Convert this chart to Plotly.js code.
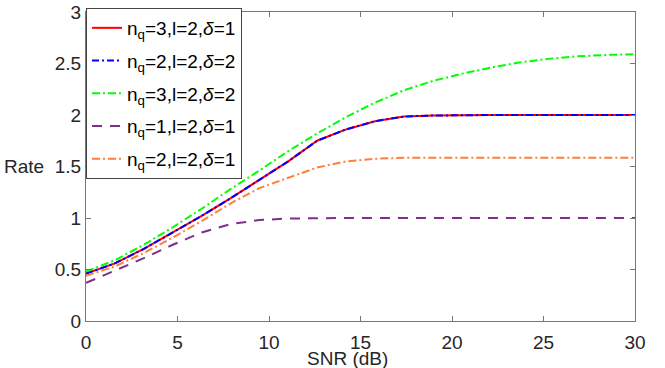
<!DOCTYPE html>
<html>
<head>
<meta charset="utf-8">
<script src="https://cdn.plot.ly/plotly-3.0.1.min.js"></script>
<style>html,body{margin:0;padding:0;background:#fff;}#chart{width:665px;height:368px;}</style>
</head>
<body>
<div id="chart"></div>
<script>
// SNR (dB) sample points
var snr = [0, 1.58, 3.16, 4.74, 6.32, 7.89, 9.47, 11.05, 12.63, 14.21, 15.79, 17.37, 18.95, 20.53, 22.11, 23.68, 25.26, 26.84, 28.42, 30];

// Rate series
var rateQ3D1 = [0.46, 0.56, 0.70, 0.86, 1.02, 1.19, 1.37, 1.55, 1.75, 1.86, 1.94, 1.985, 1.995, 2.0, 2.0, 2.0, 2.0, 2.0, 2.0, 2.0];
var rateQ2D2 = [0.46, 0.56, 0.70, 0.86, 1.02, 1.19, 1.37, 1.55, 1.75, 1.86, 1.94, 1.985, 1.995, 2.0, 2.0, 2.0, 2.0, 2.0, 2.0, 2.0];
var rateQ3D2 = [0.48, 0.59, 0.74, 0.91, 1.09, 1.28, 1.46, 1.65, 1.82, 1.98, 2.12, 2.24, 2.33, 2.40, 2.46, 2.51, 2.545, 2.57, 2.583, 2.59];
var rateQ1D1 = [0.37, 0.49, 0.61, 0.74, 0.86, 0.94, 0.98, 0.995, 1.0, 1.0, 1.0, 1.0, 1.0, 1.0, 1.0, 1.0, 1.0, 1.0, 1.0, 1.0];
var rateQ2D1 = [0.44, 0.53, 0.66, 0.81, 0.97, 1.14, 1.29, 1.39, 1.49, 1.55, 1.575, 1.585, 1.585, 1.585, 1.585, 1.585, 1.585, 1.585, 1.585, 1.585];

var seriesNames = [
  'n<sub>q</sub>=3,l=2,<i>δ</i>=1',
  'n<sub>q</sub>=2,l=2,<i>δ</i>=2',
  'n<sub>q</sub>=3,l=2,<i>δ</i>=2',
  'n<sub>q</sub>=1,l=2,<i>δ</i>=1',
  'n<sub>q</sub>=2,l=2,<i>δ</i>=1'
];

var xTicks = [0, 5, 10, 15, 20, 25, 30];
var yTicks = [0, 0.5, 1, 1.5, 2, 2.5, 3];
var yTickText = ['0', '0.5', '1', '1.5', '2', '2.5', '3'];

var seriesData = [rateQ3D1, rateQ2D2, rateQ3D2, rateQ1D1, rateQ2D1];
var colors = ['#ff0000', '#0000ff', '#00ff00', '#7e2f8e', '#ff7f3a'];
var dashes = ['solid', '7px,3px,2px,3px', '8px,3px,2px,3px', '10px,8px', '8px,3px,2px,3px'];

var traces = seriesData.map(function (ys, i) {
  return {
    x: snr, y: ys, name: seriesNames[i], type: 'scatter', mode: 'lines',
    legendgroup: 'g' + i,
    line: {color: colors[i], width: 2, dash: dashes[i]}
  };
});

var font = {family: 'Liberation Sans, Arial, sans-serif', size: 19, color: '#262626'};

var layout = {
  width: 665, height: 368,
  margin: {l: 86, r: 30, t: 12, b: 47, pad: 0, autoexpand: false},
  paper_bgcolor: '#ffffff', plot_bgcolor: '#ffffff',
  font: font,
  showlegend: true,
  legend: {
    xref: 'paper', yref: 'container',
    x: 0, y: 1 - 8 / 368, xanchor: 'left', yanchor: 'top',
    bgcolor: '#ffffff', bordercolor: '#444444', borderwidth: 1,
    font: {family: 'Liberation Sans, Arial, sans-serif', size: 19, color: '#000000'},
    itemwidth: 30, tracegroupgap: 5
  },
  xaxis: {
    range: [0, 30], tickvals: xTicks, ticktext: xTicks.map(String),
    ticks: 'inside', ticklen: 5, tickcolor: '#777', tickwidth: 1,
    showline: true, linecolor: '#777', linewidth: 1, mirror: 'ticks',
    showgrid: false, zeroline: false, ticklabelstandoff: 4,
    tickfont: font, automargin: false
  },
  yaxis: {
    range: [0, 3], tickvals: yTicks, ticktext: yTickText,
    ticks: 'inside', ticklen: 5, tickcolor: '#777', tickwidth: 1,
    showline: true, linecolor: '#777', linewidth: 1, mirror: 'ticks',
    showgrid: false, zeroline: false, ticklabelstandoff: 0,
    tickfont: font, automargin: false
  },
  annotations: [
    {text: 'SNR (dB)', xref: 'paper', yref: 'paper', x: (347 - 86) / 549, y: (321 - 358) / 309,
     xanchor: 'center', yanchor: 'middle', showarrow: false, font: font},
    {text: 'Rate', xref: 'paper', yref: 'paper', x: (46 - 86) / 549, y: (321 - 166) / 309,
     xanchor: 'right', yanchor: 'middle', showarrow: false, font: font}
  ]
};

Plotly.newPlot('chart', traces, layout, {displayModeBar: false, staticPlot: true});
</script>
</body>
</html>
